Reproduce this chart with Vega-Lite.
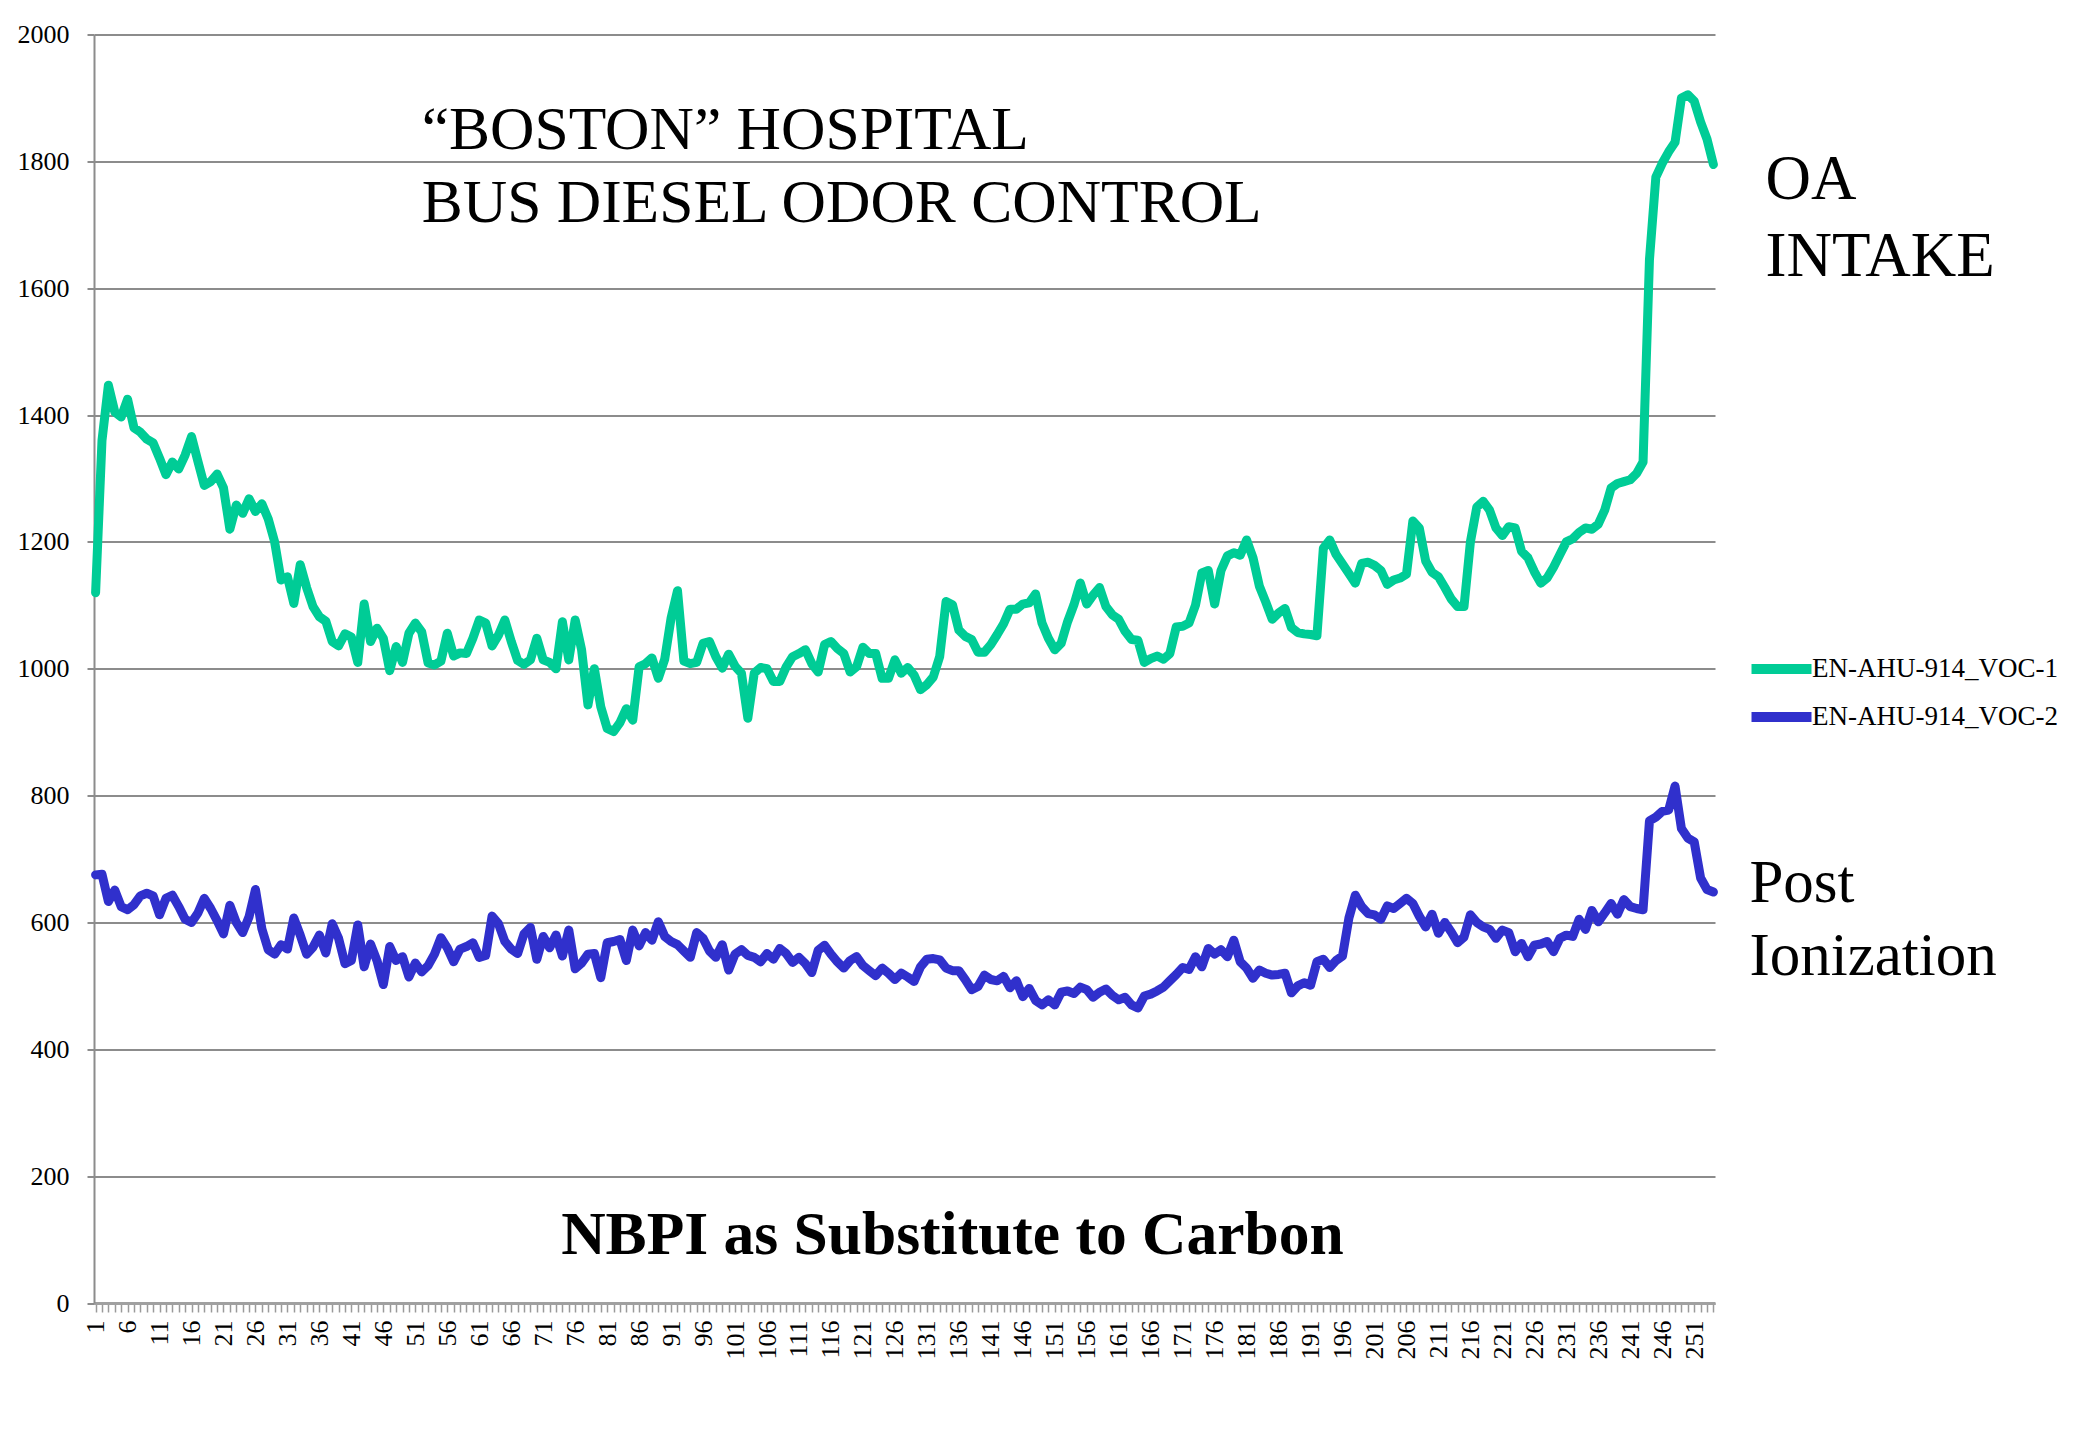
{
  "$schema": "https://vega.github.io/schema/vega-lite/v6.json",
  "width": 1621,
  "height": 1268.5,
  "autosize": {"type": "none"},
  "padding": {"left": 94, "top": 34.5, "right": 366, "bottom": 137},
  "background": "#ffffff",
  "config": {
    "font": "Liberation Serif",
    "view": {"stroke": null},
    "axis": {"labelFont": "Liberation Serif", "labelColor": "#000000", "titleFont": "Liberation Serif"},
    "legend": {"labelFont": "Liberation Serif"}
  },
  "datasets": {
    "voc": [
{"t":1,"a":1120,"b":675},{"t":2,"a":1360,"b":676},{"t":3,"a":1447,"b":633},{"t":4,"a":1405,"b":651},{"t":5,"a":1397,"b":625},{"t":6,"a":1425,"b":620},{"t":7,"a":1380,"b":628},{"t":8,"a":1373,"b":642},{"t":9,"a":1362,"b":646},{"t":10,"a":1356,"b":642},
{"t":11,"a":1332,"b":612},{"t":12,"a":1306,"b":638},{"t":13,"a":1326,"b":643},{"t":14,"a":1315,"b":625},{"t":15,"a":1337,"b":605},{"t":16,"a":1366,"b":600},{"t":17,"a":1327,"b":615},{"t":18,"a":1289,"b":638},{"t":19,"a":1295,"b":622},{"t":20,"a":1307,"b":603},
{"t":21,"a":1285,"b":582},{"t":22,"a":1220,"b":627},{"t":23,"a":1258,"b":600},{"t":24,"a":1245,"b":584},{"t":25,"a":1268,"b":609},{"t":26,"a":1248,"b":652},{"t":27,"a":1260,"b":590},{"t":28,"a":1236,"b":557},{"t":29,"a":1200,"b":550},{"t":30,"a":1140,"b":565},
{"t":31,"a":1145,"b":558},{"t":32,"a":1103,"b":607},{"t":33,"a":1164,"b":580},{"t":34,"a":1128,"b":550},{"t":35,"a":1098,"b":561},{"t":36,"a":1082,"b":580},{"t":37,"a":1075,"b":552},{"t":38,"a":1043,"b":598},{"t":39,"a":1036,"b":575},{"t":40,"a":1055,"b":535},
{"t":41,"a":1050,"b":540},{"t":42,"a":1010,"b":596},{"t":43,"a":1102,"b":530},{"t":44,"a":1043,"b":566},{"t":45,"a":1064,"b":540},{"t":46,"a":1048,"b":502},{"t":47,"a":997,"b":562},{"t":48,"a":1035,"b":540},{"t":49,"a":1010,"b":546},{"t":50,"a":1056,"b":514},
{"t":51,"a":1072,"b":536},{"t":52,"a":1058,"b":522},{"t":53,"a":1009,"b":532},{"t":54,"a":1006,"b":550},{"t":55,"a":1012,"b":576},{"t":56,"a":1056,"b":560},{"t":57,"a":1020,"b":538},{"t":58,"a":1025,"b":558},{"t":59,"a":1024,"b":562},{"t":60,"a":1048,"b":568},
{"t":61,"a":1077,"b":545},{"t":62,"a":1072,"b":548},{"t":63,"a":1036,"b":610},{"t":64,"a":1053,"b":598},{"t":65,"a":1077,"b":570},{"t":66,"a":1043,"b":558},{"t":67,"a":1013,"b":551},{"t":68,"a":1007,"b":582},{"t":69,"a":1014,"b":592},{"t":70,"a":1048,"b":542},
{"t":71,"a":1014,"b":578},{"t":72,"a":1010,"b":560},{"t":73,"a":1000,"b":580},{"t":74,"a":1074,"b":547},{"t":75,"a":1014,"b":588},{"t":76,"a":1077,"b":527},{"t":77,"a":1030,"b":536},{"t":78,"a":943,"b":550},{"t":79,"a":1000,"b":551},{"t":80,"a":940,"b":513},
{"t":81,"a":906,"b":568},{"t":82,"a":901,"b":570},{"t":83,"a":915,"b":573},{"t":84,"a":937,"b":540},{"t":85,"a":919,"b":588},{"t":86,"a":1003,"b":563},{"t":87,"a":1008,"b":584},{"t":88,"a":1017,"b":572},{"t":89,"a":985,"b":601},{"t":90,"a":1015,"b":578},
{"t":91,"a":1080,"b":570},{"t":92,"a":1123,"b":565},{"t":93,"a":1012,"b":555},{"t":94,"a":1008,"b":545},{"t":95,"a":1010,"b":584},{"t":96,"a":1040,"b":575},{"t":97,"a":1043,"b":555},{"t":98,"a":1019,"b":545},{"t":99,"a":1001,"b":565},{"t":100,"a":1023,"b":525},
{"t":101,"a":1004,"b":550},{"t":102,"a":993,"b":557},{"t":103,"a":922,"b":548},{"t":104,"a":993,"b":545},{"t":105,"a":1002,"b":538},{"t":106,"a":1000,"b":551},{"t":107,"a":980,"b":542},{"t":108,"a":980,"b":559},{"t":109,"a":1003,"b":551},{"t":110,"a":1019,"b":537},
{"t":111,"a":1024,"b":545},{"t":112,"a":1030,"b":535},{"t":113,"a":1008,"b":521},{"t":114,"a":995,"b":556},{"t":115,"a":1038,"b":564},{"t":116,"a":1043,"b":550},{"t":117,"a":1032,"b":538},{"t":118,"a":1024,"b":528},{"t":119,"a":995,"b":540},{"t":120,"a":1003,"b":546},
{"t":121,"a":1034,"b":532},{"t":122,"a":1024,"b":524},{"t":123,"a":1024,"b":516},{"t":124,"a":985,"b":528},{"t":125,"a":985,"b":520},{"t":126,"a":1014,"b":510},{"t":127,"a":993,"b":520},{"t":128,"a":1002,"b":514},{"t":129,"a":990,"b":507},{"t":130,"a":967,"b":530},
{"t":131,"a":975,"b":542},{"t":132,"a":987,"b":543},{"t":133,"a":1019,"b":541},{"t":134,"a":1106,"b":528},{"t":135,"a":1101,"b":524},{"t":136,"a":1061,"b":524},{"t":137,"a":1051,"b":510},{"t":138,"a":1046,"b":494},{"t":139,"a":1026,"b":499},{"t":140,"a":1026,"b":517},
{"t":141,"a":1038,"b":510},{"t":142,"a":1054,"b":508},{"t":143,"a":1071,"b":515},{"t":144,"a":1094,"b":497},{"t":145,"a":1094,"b":508},{"t":146,"a":1102,"b":483},{"t":147,"a":1104,"b":496},{"t":148,"a":1118,"b":477},{"t":149,"a":1072,"b":470},{"t":150,"a":1048,"b":478},
{"t":151,"a":1030,"b":470},{"t":152,"a":1040,"b":490},{"t":153,"a":1074,"b":492},{"t":154,"a":1101,"b":488},{"t":155,"a":1135,"b":498},{"t":156,"a":1102,"b":494},{"t":157,"a":1116,"b":482},{"t":158,"a":1128,"b":490},{"t":159,"a":1098,"b":495},{"t":160,"a":1085,"b":485},
{"t":161,"a":1078,"b":478},{"t":162,"a":1059,"b":482},{"t":163,"a":1046,"b":470},{"t":164,"a":1045,"b":465},{"t":165,"a":1010,"b":484},{"t":166,"a":1016,"b":487},{"t":167,"a":1020,"b":492},{"t":168,"a":1015,"b":498},{"t":169,"a":1024,"b":508},{"t":170,"a":1066,"b":518},
{"t":171,"a":1067,"b":529},{"t":172,"a":1072,"b":526},{"t":173,"a":1100,"b":546},{"t":174,"a":1151,"b":530},{"t":175,"a":1155,"b":559},{"t":176,"a":1102,"b":550},{"t":177,"a":1155,"b":557},{"t":178,"a":1178,"b":546},{"t":179,"a":1183,"b":572},{"t":180,"a":1179,"b":538},
{"t":181,"a":1203,"b":528},{"t":182,"a":1175,"b":512},{"t":183,"a":1130,"b":525},{"t":184,"a":1105,"b":520},{"t":185,"a":1078,"b":517},{"t":186,"a":1088,"b":518},{"t":187,"a":1095,"b":520},{"t":188,"a":1065,"b":489},{"t":189,"a":1057,"b":500},{"t":190,"a":1055,"b":505},
{"t":191,"a":1054,"b":501},{"t":192,"a":1052,"b":538},{"t":193,"a":1190,"b":542},{"t":194,"a":1203,"b":529},{"t":195,"a":1180,"b":540},{"t":196,"a":1165,"b":547},{"t":197,"a":1150,"b":607},{"t":198,"a":1135,"b":643},{"t":199,"a":1166,"b":625},{"t":200,"a":1168,"b":614},
{"t":201,"a":1163,"b":612},{"t":202,"a":1155,"b":605},{"t":203,"a":1133,"b":626},{"t":204,"a":1140,"b":622},{"t":205,"a":1143,"b":630},{"t":206,"a":1149,"b":638},{"t":207,"a":1233,"b":630},{"t":208,"a":1222,"b":610},{"t":209,"a":1170,"b":593},{"t":210,"a":1152,"b":613},
{"t":211,"a":1145,"b":583},{"t":212,"a":1128,"b":600},{"t":213,"a":1110,"b":585},{"t":214,"a":1098,"b":568},{"t":215,"a":1098,"b":577},{"t":216,"a":1200,"b":612},{"t":217,"a":1255,"b":600},{"t":218,"a":1264,"b":593},{"t":219,"a":1250,"b":589},{"t":220,"a":1222,"b":575},
{"t":221,"a":1210,"b":588},{"t":222,"a":1224,"b":584},{"t":223,"a":1222,"b":554},{"t":224,"a":1185,"b":567},{"t":225,"a":1175,"b":546},{"t":226,"a":1153,"b":564},{"t":227,"a":1135,"b":566},{"t":228,"a":1143,"b":570},{"t":229,"a":1160,"b":554},{"t":230,"a":1180,"b":575},
{"t":231,"a":1200,"b":580},{"t":232,"a":1205,"b":578},{"t":233,"a":1215,"b":605},{"t":234,"a":1222,"b":589},{"t":235,"a":1220,"b":619},{"t":236,"a":1228,"b":601},{"t":237,"a":1250,"b":615},{"t":238,"a":1285,"b":630},{"t":239,"a":1292,"b":613},{"t":240,"a":1295,"b":636},
{"t":241,"a":1298,"b":625},{"t":242,"a":1308,"b":622},{"t":243,"a":1326,"b":620},{"t":244,"a":1645,"b":760},{"t":245,"a":1775,"b":766},{"t":246,"a":1797,"b":775},{"t":247,"a":1815,"b":777},{"t":248,"a":1830,"b":815},{"t":249,"a":1900,"b":748},{"t":250,"a":1905,"b":733},
{"t":251,"a":1895,"b":727},{"t":252,"a":1862,"b":670},{"t":253,"a":1835,"b":652},{"t":254,"a":1795,"b":648}
    ]
  },
  "layer": [
    {
      "data": {"name": "voc"},
      "transform": [{"fold": ["a", "b"], "as": ["series", "value"]}],
      "mark": {"type": "line", "strokeWidth": 9, "strokeJoin": "round", "strokeCap": "round"},
      "encoding": {
        "x": {
          "field": "t", "type": "ordinal",
          "scale": {"type": "point", "padding": 0.25},
          "axis": {
            "title": null, "labelAngle": 270,
            "labelExpr": "(datum.value - 1) % 5 === 0 ? datum.label : ''",
            "labelOverlap": false, "labelFontSize": 26, "labelPadding": 8,
            "tickSize": 9, "tickColor": "#9a9a9a", "tickWidth": 1.5,
            "domainColor": "#a0a0a0", "domainWidth": 3, "grid": false
          }
        },
        "y": {
          "field": "value", "type": "quantitative",
          "scale": {"domain": [0, 2000], "nice": false},
          "axis": {
            "title": null, "format": "d", "values": [0, 200, 400, 600, 800, 1000, 1200, 1400, 1600, 1800, 2000],
            "grid": true, "gridColor": "#8c8c8c", "gridWidth": 2,
            "domainColor": "#8c8c8c", "domainWidth": 2,
            "tickSize": 7, "tickColor": "#8c8c8c", "tickWidth": 2,
            "labelFontSize": 26, "labelPadding": 18
          }
        },
        "color": {
          "field": "series", "type": "nominal",
          "scale": {"domain": ["a", "b"], "range": ["#00CC96", "#3030CC"]},
          "legend": {
            "title": null, "orient": "none", "legendX": 1660, "legendY": 607, "padding": 0,
            "symbolType": "M-1.333,0H1.333", "symbolSize": 2025, "symbolStrokeWidth": 10,
            "labelFontSize": 27, "labelColor": "#000000", "labelOffset": 3, "rowPadding": 0, "labelLimit": 400,
            "labelExpr": "datum.value === 'a' ? 'EN-AHU-914_VOC-1' : 'EN-AHU-914_VOC-2'"
          }
        }
      }
    },
    {
      "data": {"values": [{"label": ["“BOSTON” HOSPITAL", "BUS DIESEL ODOR CONTROL"]}]},
      "mark": {"type": "text", "align": "left", "baseline": "alphabetic", "font": "Liberation Serif", "fontSize": 61.5, "lineHeight": 72.4, "color": "#000000"},
      "encoding": {"x": {"datum": 52, "type": "ordinal"}, "y": {"datum": 1819, "type": "quantitative"}, "text": {"field": "label"}}
    },
    {
      "data": {"values": [{"label": ["OA", "INTAKE"]}]},
      "mark": {"type": "text", "align": "left", "baseline": "alphabetic", "font": "Liberation Serif", "fontSize": 63, "lineHeight": 77, "dx": 52, "color": "#000000"},
      "encoding": {"x": {"datum": 254, "type": "ordinal"}, "y": {"datum": 1741, "type": "quantitative"}, "text": {"field": "label"}}
    },
    {
      "data": {"values": [{"label": ["Post", "Ionization"]}]},
      "mark": {"type": "text", "align": "left", "baseline": "alphabetic", "font": "Liberation Serif", "fontSize": 61, "lineHeight": 73, "dx": 36, "color": "#000000"},
      "encoding": {"x": {"datum": 254, "type": "ordinal"}, "y": {"datum": 632, "type": "quantitative"}, "text": {"field": "label"}}
    },
    {
      "data": {"values": [{"label": "NBPI as Substitute to Carbon"}]},
      "mark": {"type": "text", "align": "center", "baseline": "alphabetic", "font": "Liberation Serif", "fontSize": 61.5, "fontWeight": "bold", "color": "#000000"},
      "encoding": {"x": {"datum": 135, "type": "ordinal"}, "y": {"datum": 77, "type": "quantitative"}, "text": {"field": "label"}}
    }
  ]
}
